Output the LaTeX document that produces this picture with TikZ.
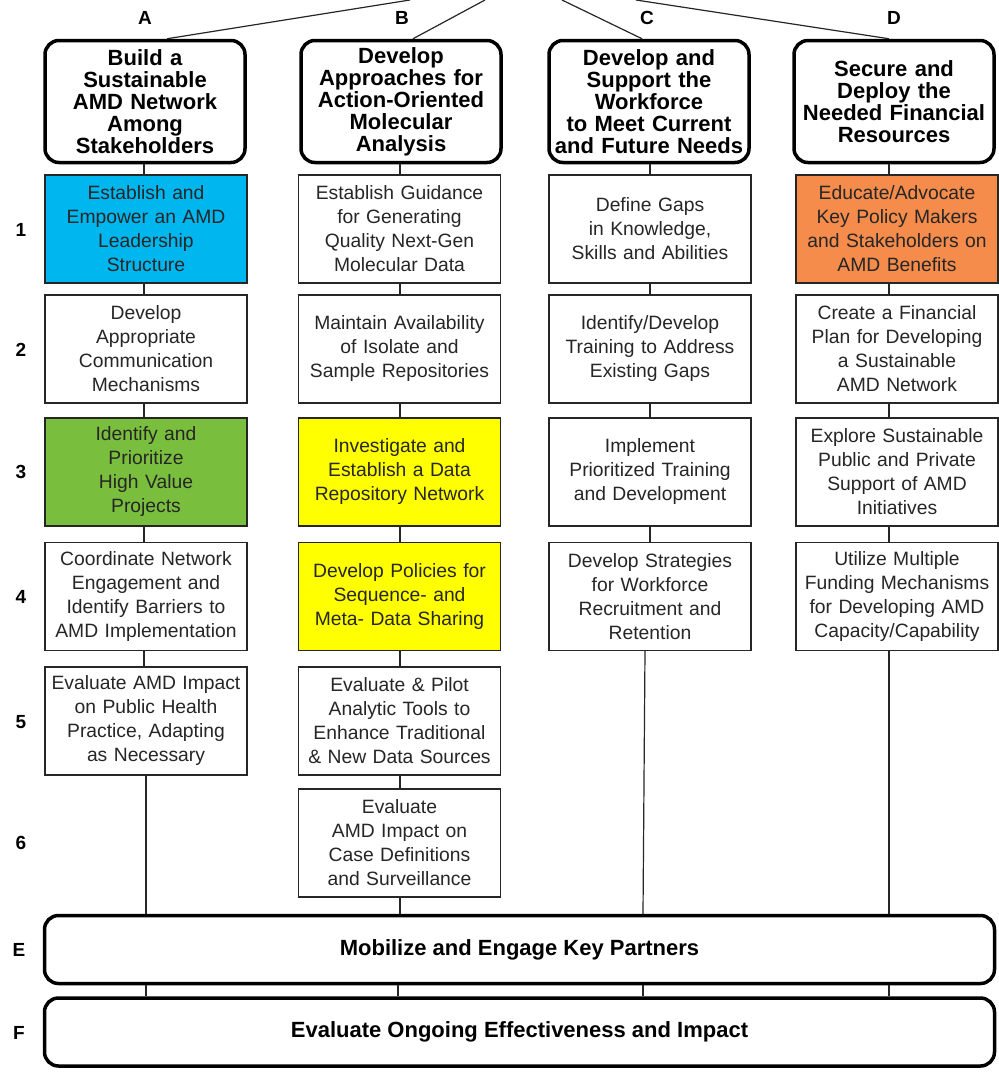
\documentclass[tikz,border=0pt]{standalone}
\usepackage{fontspec}
\setmainfont{Liberation Sans}
\definecolor{cyanbox}{HTML}{00B6EF}
\definecolor{greenbox}{HTML}{7ABE3E}
\definecolor{yellowbox}{HTML}{FFFF00}
\definecolor{orangebox}{HTML}{F58C4B}
\definecolor{bodytext}{HTML}{262626}
\tikzset{
  headbox/.style={draw=black, line width=3.5pt, rounded corners=14pt, fill=white,
    minimum width=200pt, minimum height=122pt, inner sep=0pt, text width=200pt,
    align=center, font=\fontsize{22}{22}\selectfont\bfseries},
  subbox/.style={draw=black!85, line width=1.2pt, fill=white,
    minimum width=202pt, minimum height=108pt, inner sep=0pt, text width=202pt,
    align=center, text=bodytext, font=\fontsize{19.3}{24}\selectfont},
  barbox/.style={draw=black, line width=3.5pt, rounded corners=14pt, fill=white,
    minimum width=950pt, minimum height=68pt, inner sep=0pt,
    font=\fontsize{22}{24}\selectfont\bfseries},
  lbl/.style={font=\fontsize{19}{20}\selectfont\bfseries, inner sep=0pt},
  conn/.style={draw=black!85, line width=1.2pt},
}
\begin{document}
\begin{tikzpicture}[x=1pt,y=-1pt]
\useasboundingbox (0,0) rectangle (999,1074);
% column labels
\node[lbl] (lA) at (145,18) {A};
\node[lbl] (lB) at (402,18) {B};
\node[lbl] (lC) at (647,18) {C};
\node[lbl] (lD) at (894,18) {D};
% row labels
\node[lbl] (r1) at (21,230) {1};
\node[lbl] (r2) at (21,350) {2};
\node[lbl] (r3) at (21,472) {3};
\node[lbl] (r4) at (21,597) {4};
\node[lbl] (r5) at (21,722) {5};
\node[lbl] (r6) at (21,843) {6};
\node[lbl] (rE) at (19,950) {E};
\node[lbl] (rF) at (19,1033) {F};
% top connector ends
\coordinate (tA) at (410,0);
\coordinate (tB) at (485,0);
\coordinate (tC) at (562,0);
\coordinate (tD) at (636,0);
% column line x positions
\coordinate (xA) at (144,0);
\coordinate (xB) at (400,0);
\coordinate (xC) at (650,0);
\coordinate (xD) at (889,0);
% heads
\node[headbox] (hA) at (145,101.5) {Build a\\Sustainable\\AMD Network\\Among\\Stakeholders};
\node[headbox] (hB) at (401,101.5) {Develop\\Approaches for\\Action-Oriented\\Molecular\\Analysis};
\node[headbox] (hC) at (649,101.5) {Develop and\\Support the\\Workforce\\to Meet Current\\and Future Needs};
\node[headbox] (hD) at (894,101.5) {Secure and\\Deploy the\\Needed Financial\\Resources};
% column A
\node[subbox, fill=cyanbox] (a1) at (146,229) {Establish and\\Empower an AMD\\Leadership\\Structure};
\node[subbox] (a2) at (146,349) {Develop\\Appropriate\\Communication\\Mechanisms};
\node[subbox, fill=greenbox] (a3) at (146,472) {Identify and\\Prioritize\\High Value\\Projects};
\node[subbox] (a4) at (146,596.5) {Coordinate Network\\Engagement and\\Identify Barriers to\\AMD Implementation};
\node[subbox] (a5) at (146,721) {Evaluate AMD Impact\\on Public Health\\Practice, Adapting\\as Necessary};
% column B
\node[subbox] (b1) at (399.5,229) {Establish Guidance\\for Generating\\Quality Next-Gen\\Molecular Data};
\node[subbox] (b2) at (399.5,349) {Maintain Availability\\of Isolate and\\Sample Repositories};
\node[subbox, fill=yellowbox] (b3) at (399.5,472) {Investigate and\\Establish a Data\\Repository Network};
\node[subbox, fill=yellowbox] (b4) at (399.5,596.5) {Develop Policies for\\Sequence- and\\Meta- Data Sharing};
\node[subbox] (b5) at (399.5,721) {Evaluate \& Pilot\\Analytic Tools to\\Enhance Traditional\\\& New Data Sources};
\node[subbox] (b6) at (399.5,843) {Evaluate\\AMD Impact on\\Case Definitions\\and Surveillance};
% column C
\node[subbox] (c1) at (650,229) {Define Gaps\\in Knowledge,\\Skills and Abilities};
\node[subbox] (c2) at (650,349) {Identify/Develop\\Training to Address\\Existing Gaps};
\node[subbox] (c3) at (650,472) {Implement\\Prioritized Training\\and Development};
\node[subbox] (c4) at (650,596.5) {Develop Strategies\\for Workforce\\Recruitment and\\Retention};
% column D
\node[subbox, fill=orangebox] (d1) at (897,229) {Educate/Advocate\\Key Policy Makers\\and Stakeholders on\\AMD Benefits};
\node[subbox] (d2) at (897,349) {Create a Financial\\Plan for Developing\\a Sustainable\\AMD Network};
\node[subbox] (d3) at (897,472) {Explore Sustainable\\Public and Private\\Support of AMD\\Initiatives};
\node[subbox] (d4) at (897,596.5) {Utilize Multiple\\Funding Mechanisms\\for Developing AMD\\Capacity/Capability};
% bars
\node[barbox] (E) at (519.5,949.5) {Mobilize and Engage Key Partners};
\node[barbox] (F) at (519.5,1032) {Evaluate Ongoing Effectiveness and Impact};
% top lines
\begin{scope}[on background layer/.try]
\end{scope}
\draw[conn] (hA.north -| 167,0) -- (tA);
\draw[conn] (hB.north -| 413,0) -- (tB);
\draw[conn] (hC.north -| 642,0) -- (tC);
\draw[conn] (hD.north -| 889,0) -- (tD);
% column A connectors
\draw[conn] (hA.south -| xA) -- (a1.north -| xA);
\draw[conn] (a1.south -| xA) -- (a2.north -| xA);
\draw[conn] (a2.south -| xA) -- (a3.north -| xA);
\draw[conn] (a3.south -| xA) -- (a4.north -| xA);
\draw[conn] (a4.south -| xA) -- (a5.north -| xA);
\draw[conn] (a5.south -| 146,0) -- (E.north -| 146,0);
% column B connectors
\draw[conn] (hB.south -| xB) -- (b1.north -| xB);
\draw[conn] (b1.south -| xB) -- (b2.north -| xB);
\draw[conn] (b2.south -| xB) -- (b3.north -| xB);
\draw[conn] (b3.south -| xB) -- (b4.north -| xB);
\draw[conn] (b4.south -| xB) -- (b5.north -| xB);
\draw[conn] (b5.south -| xB) -- (b6.north -| xB);
\draw[conn] (b6.south -| xB) -- (E.north -| xB);
% column C connectors
\draw[conn] (hC.south -| xC) -- (c1.north -| xC);
\draw[conn] (c1.south -| xC) -- (c2.north -| xC);
\draw[conn] (c2.south -| xC) -- (c3.north -| xC);
\draw[conn] (c3.south -| xC) -- (c4.north -| xC);
\draw[conn] (c4.south -| 645,0) -- (E.north -| 643,0);
% column D connectors
\draw[conn] (hD.south -| xD) -- (d1.north -| xD);
\draw[conn] (d1.south -| xD) -- (d2.north -| xD);
\draw[conn] (d2.south -| xD) -- (d3.north -| xD);
\draw[conn] (d3.south -| xD) -- (d4.north -| xD);
\draw[conn] (d4.south -| xD) -- (E.north -| xD);
% E to F
\draw[conn] (E.south -| 146,0) -- (F.north -| 146,0);
\draw[conn] (E.south -| 398,0) -- (F.north -| 398,0);
\draw[conn] (E.south -| 643,0) -- (F.north -| 643,0);
\draw[conn] (E.south -| xD) -- (F.north -| xD);
\end{tikzpicture}
\end{document}
